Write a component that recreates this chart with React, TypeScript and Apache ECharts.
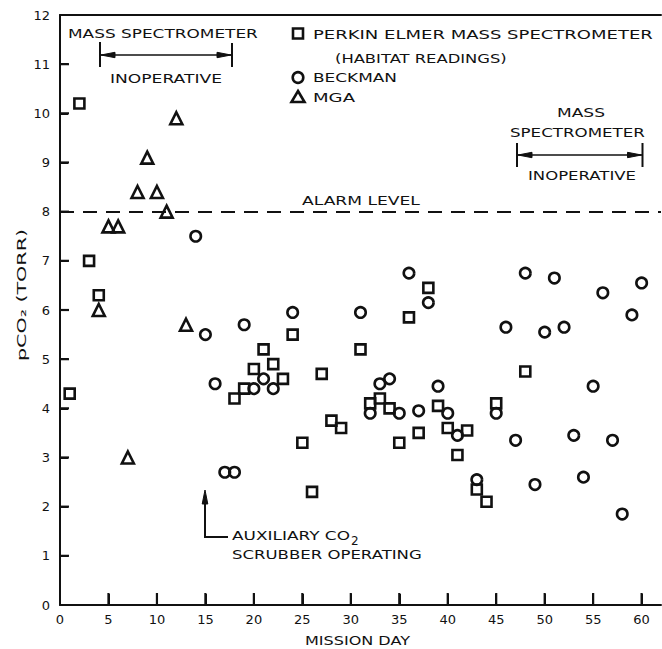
import React, { useEffect, useRef } from 'react';
import * as echarts from 'echarts';

// Perkin Elmer mass spectrometer (habitat readings) – squares
const perkinElmer: [number, number][] = [
  [1, 4.3], [2, 10.2], [3, 7.0], [4, 6.3], [18, 4.2], [19, 4.4], [20, 4.8], [21, 5.2],
  [22, 4.9], [23, 4.6], [24, 5.5], [25, 3.3], [26, 2.3], [27, 4.7], [28, 3.75], [29, 3.6],
  [31, 5.2], [32, 4.1], [33, 4.2], [34, 4.0], [35, 3.3], [36, 5.85], [37, 3.5], [38, 6.45],
  [39, 4.05], [40, 3.6], [41, 3.05], [42, 3.55], [43, 2.35], [44, 2.1], [45, 4.1], [48, 4.75],
];

// Beckman – circles
const beckman: [number, number][] = [
  [14, 7.5], [15, 5.5], [16, 4.5], [17, 2.7], [18, 2.7], [19, 5.7], [20, 4.4], [21, 4.6],
  [22, 4.4], [24, 5.95], [31, 5.95], [32, 3.9], [33, 4.5], [34, 4.6], [35, 3.9], [36, 6.75],
  [37, 3.95], [38, 6.15], [39, 4.45], [40, 3.9], [41, 3.45], [43, 2.55], [45, 3.9], [46, 5.65],
  [47, 3.35], [48, 6.75], [49, 2.45], [50, 5.55], [51, 6.65], [52, 5.65], [53, 3.45], [54, 2.6],
  [55, 4.45], [56, 6.35], [57, 3.35], [58, 1.85], [59, 5.9], [60, 6.55],
];

// MGA – triangles
const mga: [number, number][] = [
  [4, 6.0], [5, 7.7], [6, 7.7], [7, 3.0], [8, 8.4], [9, 9.1], [10, 8.4], [11, 8.0], [12, 9.9], [13, 5.7],
];

const alarmLevel = 8;
const xTicks = [0, 5, 10, 15, 20, 25, 30, 35, 40, 45, 50, 55, 60];
const xTickMarks = [5, 10, 15, 20, 25, 30, 35, 40, 45, 50, 55, 60];
const yTickMarks = [1, 2, 3, 4, 5, 6, 7, 8, 9, 10, 11];

const INK = '#111111';
const FAMILY = 'DejaVu Sans';
const FONT_SIZE = 13;
const FONT = `${FONT_SIZE}px "${FAMILY}"`;

function measure(text: string, font: string): number {
  const c = document.createElement('canvas').getContext('2d');
  if (!c) return text.length * 8;
  c.font = font;
  return c.measureText(text).width || text.length * 8;
}

function label(text: string, x: number, y: number, target: number, extra: any = {}) {
  const font = extra.font || FONT;
  const sx = target / measure(text, font);
  return {
    type: 'text',
    x,
    y,
    scaleX: sx,
    rotation: extra.rotation || 0,
    style: {
      text,
      font,
      fill: INK,
      align: extra.align || 'left',
      verticalAlign: 'middle',
    },
  };
}

function seg(x1: number, y1: number, x2: number, y2: number, w = 2) {
  return { type: 'line', shape: { x1, y1, x2, y2 }, style: { stroke: INK, lineWidth: w, fill: null } };
}

function bar(x: number, y: number, width: number, height: number) {
  return { type: 'rect', shape: { x, y, width, height }, style: { fill: INK, stroke: null } };
}

function tri(points: number[][]) {
  return { type: 'polygon', shape: { points }, style: { fill: INK, stroke: INK, lineWidth: 1 } };
}

export default function App() {
  const ref = useRef<HTMLDivElement>(null);

  useEffect(() => {
    if (!ref.current) return;
    const chart = echarts.init(ref.current, null, { renderer: 'svg' });

    const marker = { color: 'rgba(0,0,0,0)', borderColor: INK, borderWidth: 2.6, opacity: 1 };
    const axisTextStyle = { color: INK, fontFamily: FAMILY, fontSize: FONT_SIZE };

    const annotations: any[] = [
      // left "mass spectrometer inoperative" bracket
      label('MASS SPECTROMETER', 68, 34, 190),
      seg(100, 42, 100, 67),
      seg(232, 43, 232, 67),
      seg(100, 55, 232, 55, 1.6),
      tri([[101, 55], [115, 52.3], [115, 57.7]]),
      tri([[231, 55], [217, 52.3], [217, 57.7]]),
      label('INOPERATIVE', 110, 79, 112),
      // legend
      { type: 'rect', shape: { x: 293, y: 28.5, width: 10, height: 10 }, style: { fill: 'none', stroke: INK, lineWidth: 2.6 } },
      label('PERKIN ELMER MASS SPECTROMETER', 313, 34, 340),
      label('(HABITAT READINGS)', 335, 58, 172),
      { type: 'circle', shape: { cx: 298, cy: 77.5, r: 5.3 }, style: { fill: 'none', stroke: INK, lineWidth: 2.6 } },
      label('BECKMAN', 313, 78, 84),
      { type: 'polygon', shape: { points: [[298, 91], [304.5, 102], [291.5, 102]] }, style: { fill: 'none', stroke: INK, lineWidth: 2.6 } },
      label('MGA', 313, 97, 42),
      // right bracket
      label('MASS', 557, 113, 48),
      label('SPECTROMETER', 510, 133, 135),
      seg(517, 143, 517, 167),
      seg(642.5, 143, 642.5, 167),
      seg(517, 155, 642.5, 155, 1.6),
      tri([[518, 155], [532, 152.3], [532, 157.7]]),
      tri([[641.5, 155], [627.5, 152.3], [627.5, 157.7]]),
      label('INOPERATIVE', 528, 176, 108),
      // alarm level
      label('ALARM LEVEL', 302, 201, 118),
      // auxiliary scrubber arrow
      seg(205, 500, 205, 537),
      seg(204, 537, 228, 537),
      tri([[205, 490], [202.2, 504], [207.8, 504]]),
      label('AUXILIARY CO', 232, 536, 118),
      { type: 'text', x: 351, y: 541, style: { text: '2', font: `12px "${FAMILY}"`, fill: INK, align: 'left', verticalAlign: 'middle' } },
      label('SCRUBBER OPERATING', 232, 555, 190),
      // axis titles
      label('MISSION DAY', 305, 640, 105),
      label('pCO₂ (TORR)', 21, 295, 132, { rotation: Math.PI / 2, align: 'center' }),
    ];

    const option: any = {
      animation: false,
      backgroundColor: '#ffffff',
      grid: { left: 60, right: 1, top: 15, bottom: 44 },
      xAxis: [
        {
          type: 'value',
          min: 0,
          max: 62,
          interval: 5,
          axisLine: { show: true, onZero: false, lineStyle: { color: INK, width: 2 } },
          axisTick: { show: true, inside: true, length: 11, customValues: xTickMarks, lineStyle: { color: INK, width: 2 } },
          axisLabel: {
            ...axisTextStyle,
            margin: 8,
            customValues: xTicks,
            formatter: (v: number) => (v <= 60 ? String(v) : ''),
          },
          splitLine: { show: false },
        },
        {
          type: 'value',
          position: 'top',
          min: 0,
          max: 62,
          axisLine: { show: true, onZero: false, lineStyle: { color: INK, width: 2 } },
          axisTick: { show: false },
          axisLabel: { show: false },
          splitLine: { show: false },
        },
      ],
      yAxis: {
        type: 'value',
        min: 0,
        max: 12,
        interval: 1,
        axisLine: { show: true, onZero: false, lineStyle: { color: INK, width: 2 } },
        axisTick: { show: true, inside: true, length: 8, lineStyle: { color: INK, width: 2 } },
        axisLabel: { ...axisTextStyle, margin: 10 },
        splitLine: { show: false },
      },
      series: [
        {
          name: 'PERKIN ELMER MASS SPECTROMETER',
          type: 'scatter',
          symbol: 'rect',
          symbolSize: 10,
          itemStyle: marker,
          emphasis: { disabled: true },
          data: perkinElmer,
          z: 3,
        },
        {
          name: 'BECKMAN',
          type: 'scatter',
          symbol: 'circle',
          symbolSize: 10.5,
          itemStyle: marker,
          emphasis: { disabled: true },
          data: beckman,
          z: 3,
          markLine: {
            silent: true,
            symbol: ['none', 'none'],
            label: { show: false },
            lineStyle: { color: INK, width: 2, type: [14, 9], opacity: 1 },
            data: [{ yAxis: alarmLevel }],
          },
        },
        {
          name: 'MGA',
          type: 'scatter',
          symbol: 'triangle',
          symbolSize: 12,
          itemStyle: marker,
          emphasis: { disabled: true },
          data: mga,
          z: 3,
        },
        {
          name: 'annotations',
          type: 'custom',
          silent: true,
          clip: false,
          z: 5,
          data: [[0, 0]],
          renderItem: (_params: any, api: any) => {
            const ticks: any[] = [];
            xTickMarks.forEach((v) => {
              const p = api.coord([v, 0]);
              ticks.push(bar(p[0] - 1.1, p[1] - 12, 2.2, 12));
            });
            yTickMarks.forEach((v) => {
              const p = api.coord([0, v]);
              ticks.push(bar(p[0], p[1] - 1.1, 9, 2.2));
            });
            return { type: 'group', children: [...ticks, ...annotations] };
          },
        },
      ],
    };

    chart.setOption(option);
    return () => chart.dispose();
  }, []);

  return (
    <div
      ref={ref}
      style={{ position: 'absolute', left: 0, top: 0, width: 662, height: 649, background: '#fff' }}
    />
  );
}
